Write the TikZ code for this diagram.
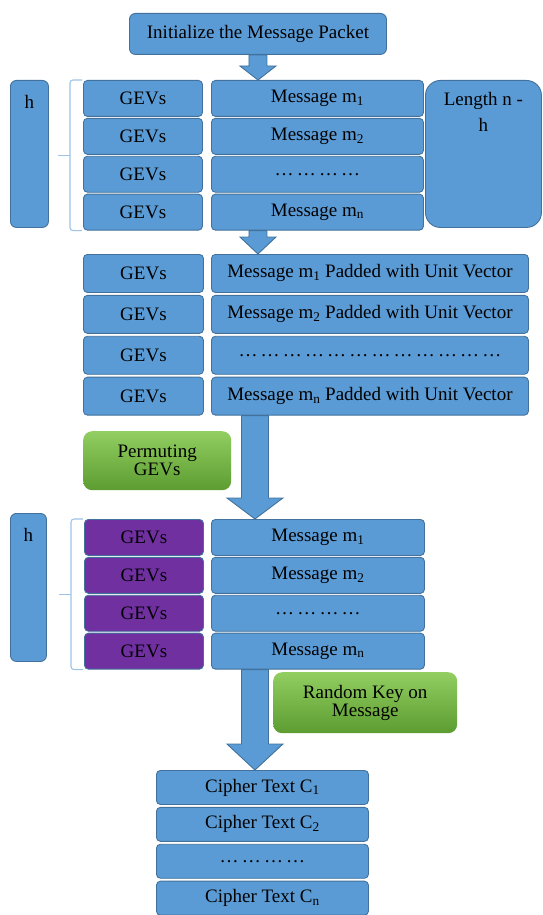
\documentclass[tikz,border=0pt]{standalone}
\usepackage{fontspec}
\setmainfont{Liberation Serif}
\usetikzlibrary{positioning, calc}
\definecolor{boxblue}{RGB}{91,155,213}
\definecolor{edgeblue}{RGB}{65,113,156}
\definecolor{gevpurple}{RGB}{112,48,160}
\definecolor{bracelight}{RGB}{157,195,230}
\definecolor{greenlight}{RGB}{146,206,98}
\definecolor{greendark}{RGB}{92,156,48}
% block arrow: from, to, shaft half width, head half width, head length
\newcommand{\fatarrow}[5]{%
  \filldraw[fatarrow] let \p1=(#1), \p2=(#2) in
    (\x1-#3,\y1) -- (\x1-#3,\y2+#5) -- (\x1-#4,\y2+#5) -- (\x1,\y2)
    -- (\x1+#4,\y2+#5) -- (\x1+#3,\y2+#5) -- (\x1+#3,\y1) -- cycle;}

\begin{document}
\begin{tikzpicture}[x=1pt, y=-1pt, font=\fontsize{19}{18}\selectfont,
    cell/.style={draw=edgeblue, fill=boxblue, line width=0.9pt, rounded corners=4pt, inner sep=0pt, minimum height=36pt},
    gev/.style={cell, minimum width=119pt},
    gevp/.style={gev, fill=gevpurple},
    msg/.style={cell, minimum width=212pt},
    longmsg/.style={cell, minimum width=317pt, minimum height=38pt},
    sidebox/.style={cell, rounded corners=6pt},
    greenbox/.style={rounded corners=9pt, top color=greenlight, bottom color=greendark, align=center, inner sep=0pt},
    brace/.style={draw=bracelight, line width=1.1pt, rounded corners=3pt},
    fatarrow/.style={draw=edgeblue, fill=boxblue, line width=0.9pt}]
    \useasboundingbox (0,0) rectangle (542,915);

    \node[cell, anchor=north west, minimum width=257pt, minimum height=41pt, rounded corners=6pt] (init) at (129,13) {Initialize the Message Packet};
    \coordinate (axis) at ([xshift=-3pt]init.south);

    % packet with GEVs
    \node[sidebox, anchor=north west, minimum width=38pt, minimum height=147pt, label={[anchor=north, yshift=-12pt]north:h}] (h1) at (10,80) {};
    \node[gev, anchor=north west] (g11) at (83,80) {GEVs};
    \node[gev, below=1pt of g11] (g12) {GEVs};
    \node[gev, below=1pt of g12] (g13) {GEVs};
    \node[gev, below=1pt of g13] (g14) {GEVs};
    \node[msg, anchor=north west] (m11) at (211,80) {Message m\textsubscript{1}};
    \node[msg, below=1pt of m11] (m12) {Message m\textsubscript{2}};
    \node[msg, below=1pt of m12] (m13) {\ldots\,\ldots\,\ldots\,\ldots};
    \node[msg, below=1pt of m13] (m14) {Message m\textsubscript{n}};
    \node[sidebox, anchor=north west, minimum width=116pt, minimum height=147pt, rounded corners=15pt,
        label={[anchor=north, align=center, yshift=-9pt]north:{Length n -\\[8pt]h}}] (len) at (425,80) {};
    \draw[brace] ([xshift=-1pt]g11.north west) -- ++(-12,0) -- ([xshift=-13pt]g14.south west) -- ++(12,0);
    \draw[brace] ($(g11.north west)!0.5!(g14.south west)+(-13,0)$) -- ++(-12,0);

    % padded messages
    \node[gev, anchor=north west, minimum width=120pt, minimum height=38pt] (g21) at (83,254) {GEVs};
    \node[gev, below=2pt of g21, minimum width=120pt, minimum height=38pt] (g22) {GEVs};
    \node[gev, below=2pt of g22, minimum width=120pt, minimum height=38pt] (g23) {GEVs};
    \node[gev, below=2pt of g23, minimum width=120pt, minimum height=38pt] (g24) {GEVs};
    \node[longmsg, anchor=north west] (m21) at (211,254) {Message m\textsubscript{1} Padded with Unit Vector};
    \node[longmsg, below=2pt of m21] (m22) {Message m\textsubscript{2} Padded with Unit Vector};
    \node[longmsg, below=2pt of m22] (m23) {\ldots\,\ldots\,\ldots\,\ldots\,\ldots\,\ldots\,\ldots\,\ldots\,\ldots\,\ldots\,\ldots\,\ldots};
    \node[longmsg, below=2pt of m23] (m24) {Message m\textsubscript{n} Padded with Unit Vector};
    \node[greenbox, anchor=north west, minimum width=148pt, minimum height=59pt] (perm) at (83,431) {Permuting\\GEVs};

    % permuted GEVs
    \node[sidebox, anchor=north west, minimum width=36pt, minimum height=148pt, label={[anchor=north, yshift=-12pt]north:h}] (h2) at (10,513) {};
    \node[gevp, anchor=north west] (g31) at (84,519) {GEVs};
    \node[gevp, below=1pt of g31] (g32) {GEVs};
    \node[gevp, below=1pt of g32] (g33) {GEVs};
    \node[gevp, below=1pt of g33] (g34) {GEVs};
    \node[msg, anchor=north west, minimum width=213pt] (m31) at (211,519) {Message m\textsubscript{1}};
    \node[msg, below=1pt of m31, minimum width=213pt] (m32) {Message m\textsubscript{2}};
    \node[msg, below=1pt of m32, minimum width=213pt] (m33) {\ldots\,\ldots\,\ldots\,\ldots};
    \node[msg, below=1pt of m33, minimum width=213pt] (m34) {Message m\textsubscript{n}};
    \draw[brace] ([xshift=-1pt]g31.north west) -- ++(-12,0) -- ([xshift=-13pt]g34.south west) -- ++(12,0);
    \draw[brace] ($(g31.north west)!0.5!(g34.south west)+(-13,0)$) -- ++(-12,0);
    \node[greenbox, anchor=north west, minimum width=184pt, minimum height=61pt] (rkey) at (273,672) {Random Key on\\Message};

    % cipher text
    \node[msg, anchor=north west, minimum height=34pt] (c1) at (156,770) {Cipher Text C\textsubscript{1}};
    \node[msg, below=2pt of c1, minimum height=34pt] (c2) {Cipher Text C\textsubscript{2}};
    \node[msg, below=2pt of c2, minimum height=34pt] (c3) {\ldots\,\ldots\,\ldots\,\ldots};
    \node[msg, below=2pt of c3, minimum height=34pt] (c4) {Cipher Text C\textsubscript{n}};

    \fatarrow{init.south}{init.south |- m11.north}{9}{18}{14}
    \fatarrow{init.south |- m14.south}{init.south |- m21.north}{9}{18}{17}
    \fatarrow{axis |- m24.south}{axis |- m31.north}{13.5}{28}{21}
    \fatarrow{axis |- m34.south}{axis |- c1.north}{13.5}{28}{26}
\end{tikzpicture}
\end{document}
